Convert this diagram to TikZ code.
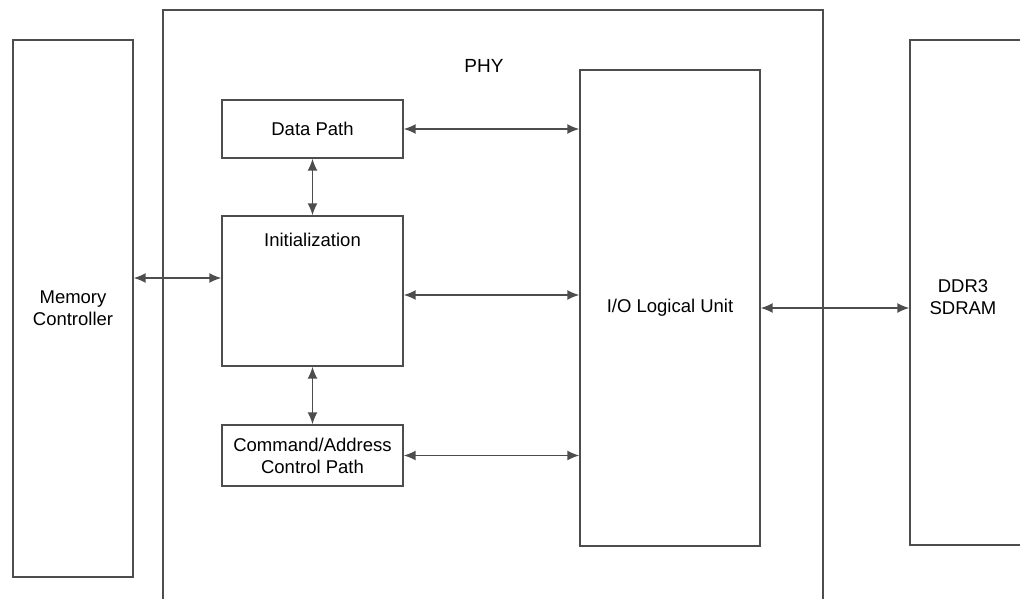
\documentclass[tikz,border=0pt]{standalone}
\usepackage{fontspec}
\setmainfont{Liberation Sans}
\usetikzlibrary{arrows.meta}
\definecolor{linegray}{HTML}{4D4D4D}

\begin{document}
\begin{tikzpicture}[x=1pt,y=-1pt]
	\tikzstyle{block}=[draw=linegray,line width=1.4pt,rectangle,align=center,inner sep=0pt,font=\fontsize{18.5}{22}\selectfont]
	\tikzstyle{link}=[{Latex[length=12pt,width=10pt]}-{Latex[length=12pt,width=10pt]},draw=linegray,fill=linegray,line width=1.5pt]
	\tikzstyle{lbl}=[align=center,inner sep=0pt,font=\fontsize{18.5}{22}\selectfont]
	
	\useasboundingbox (0,0) rectangle (1020,599);
	
	\node[block,minimum width=120pt,minimum height=537pt] (mc) at (73,308.5) {Memory\\Controller};
	\node[block,minimum width=660pt,minimum height=600pt] (phy) at (493,310) {};
	\node[lbl,font=\fontsize{19}{22}\selectfont] (phylbl) at (484,66) {PHY};
	
	\node[block,minimum width=181pt,minimum height=58pt] (data) at (312.5,129) {Data Path};
	\node[block,minimum width=181pt,minimum height=150pt] (init) at (312.5,291) {};
	\node[lbl] (initlbl) at (312.5,240) {Initialization};
	\node[block,minimum width=181pt,minimum height=61pt] (cmd) at (312.5,455.5) {Command/Address\\Control Path};
	
	\node[block,minimum width=180pt,minimum height=476pt] (io) at (670,308) {I/O Logical Unit};
	\node[block,minimum width=130pt,minimum height=505pt] (ddr) at (975,292.5) {};
	\node[lbl] (ddrlbl) at (963,297) {DDR3\\SDRAM};
	
	\draw[link] (data.east) -- (data.east -| io.west);
	\draw[link] (data.south) -- (init.north);
	\draw[link] ([yshift=13pt]init.west -| mc.east) -- ([yshift=13pt]init.west);
	\draw[link] ([yshift=-4pt]init.east) -- ([yshift=-4pt]init.east -| io.west);
	\draw[link] (init.south) -- (cmd.north);
	\draw[link] (cmd.east) -- (cmd.east -| io.west);
	\draw[link] (io.east) -- (io.east -| ddr.west);
	
\end{tikzpicture}
\end{document}
